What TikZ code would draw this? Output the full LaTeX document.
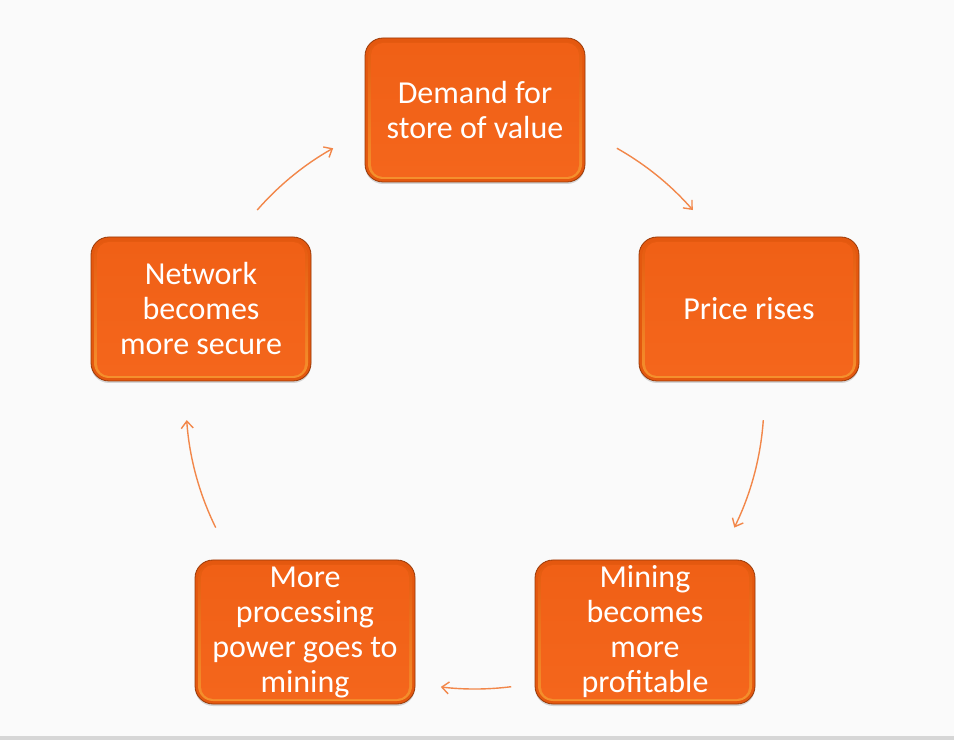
\documentclass[tikz,border=0pt]{standalone}
\usepackage{fontspec}
\setmainfont{Carlito}
\usetikzlibrary{arrows.meta,shadows}
\definecolor{bg}{HTML}{FAFAFA}
\definecolor{band}{HTML}{D6D6D6}
\definecolor{boxmain}{HTML}{F4661C}
\definecolor{boxtop}{HTML}{F06016}
\definecolor{boxrim}{HTML}{E4580F}
\definecolor{boxglow}{HTML}{F5922E}
\definecolor{boxedge}{HTML}{9A3A08}
\definecolor{arrowc}{HTML}{F2874A}
\tikzset{
  box/.style={rounded corners=18pt, minimum width=220pt, minimum height=144pt,
    inner sep=0pt, text=white, align=center,
    font=\fontsize{32}{35}\selectfont,
    draw=boxedge, line width=0.8pt, fill=boxrim,
    drop shadow={shadow xshift=0pt, shadow yshift=-2pt, opacity=0.3},
    path picture={
      \shade[rounded corners=15pt, top color=boxrim, bottom color=boxglow]
        ([shift={(3pt,3pt)}]path picture bounding box.south west) rectangle
        ([shift={(-3pt,-4pt)}]path picture bounding box.north east);
      \shade[rounded corners=12pt, top color=boxtop, bottom color=boxmain]
        ([shift={(6pt,5pt)}]path picture bounding box.south west) rectangle
        ([shift={(-6pt,-5pt)}]path picture bounding box.north east);
    }},
  cyc/.style={draw=arrowc, line width=1.4pt, -{Straight Barb[length=7pt,width=12pt,line width=1.4pt]}}
}
\begin{document}
\begin{tikzpicture}[x=1pt,y=1pt]
\fill[bg] (0,0) rectangle (954,740);
\fill[band] (0,0) rectangle (954,4);
\useasboundingbox (0,0) rectangle (954,740);
\coordinate (c) at (475,340);
\node[box] (demand) at (475,630) {Demand for\\store of value};
\node[box] (price) at (749,431) {Price rises};
\node[box] (mining) at (645,108) {Mining\\becomes\\more\\profitable};
\node[box] (power) at (305,108) {More\\processing\\power goes to\\mining};
\node[box] (secure) at (201,431) {Network\\becomes\\more secure};
\path (c) ++(60.6:289) coordinate (a1s);
\path (c) ++(-4:289) coordinate (a2s);
\path (c) ++(-82.8:289) coordinate (a3s);
\path (c) ++(-153.8:289) coordinate (a4s);
\path (c) ++(138.9:289) coordinate (a5s);
\draw[cyc] (a1s) arc[start angle=60.6, end angle=41.1, radius=289];
\draw[cyc] (a2s) arc[start angle=-4, end angle=-26.2, radius=289];
\draw[cyc] (a3s) arc[start angle=-82.8, end angle=-96.8, radius=289];
\draw[cyc] (a4s) arc[start angle=-153.8, end angle=-176, radius=289];
\draw[cyc] (a5s) arc[start angle=138.9, end angle=119.4, radius=289];
\end{tikzpicture}
\end{document}
